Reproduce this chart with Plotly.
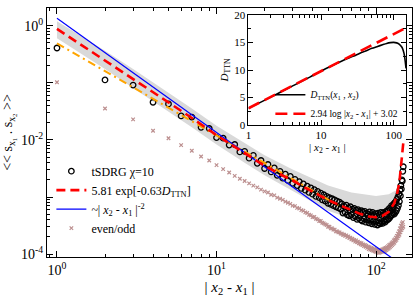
import math
import plotly.graph_objects as go

# ---------------- data ----------------
dist = list(range(1, 149))  # |x2 - x1|

# tSDRG chi=10 correlations, log10 values at dist = 1..148
tsdrg_log10 = [
    -0.39, -0.95, -1.04, -1.34, -1.37, -1.58, -1.60, -1.78, -1.80, -1.96,
    -1.97, -2.09, -2.08, -2.21, -2.20, -2.32, -2.27, -2.41, -2.36, -2.50,
    -2.43, -2.56, -2.49, -2.62, -2.55, -2.67, -2.60, -2.71, -2.64, -2.76,
    -2.69, -2.80, -2.73, -2.85, -2.77, -2.88, -2.81, -2.92, -2.84, -2.95,
    -2.87, -2.99, -2.90, -3.01, -2.93, -3.05, -2.96, -3.07, -2.99, -3.11,
    -3.01, -3.13, -3.03, -3.15, -3.05, -3.17, -3.07, -3.19, -3.09, -3.21,
    -3.12, -3.28, -3.16, -3.27, -3.14, -3.31, -3.19, -3.33, -3.17, -3.31,
    -3.21, -3.36, -3.20, -3.34, -3.23, -3.39, -3.22, -3.37, -3.26, -3.40,
    -3.24, -3.42, -3.27, -3.38, -3.25, -3.44, -3.28, -3.40, -3.30, -3.45,
    -3.26, -3.41, -3.31, -3.47, -3.27, -3.43, -3.32, -3.48, -3.29, -3.44,
    -3.33, -3.49, -3.28, -3.45, -3.31, -3.47, -3.27, -3.43, -3.32, -3.46,
    -3.27, -3.42, -3.30, -3.44, -3.26, -3.41, -3.24, -3.40, -3.25, -3.38,
    -3.20, -3.36, -3.22, -3.33, -3.15, -3.31, -3.17, -3.28, -3.12, -3.30,
    -3.10, -3.27, -3.08, -3.24, -3.04, -3.20, -3.00, -3.15, -2.95, -3.08,
    -2.88, -2.98, -2.80, -2.86, -2.70, -2.72, -2.55, -2.47,
]

# even/odd values, log10 at dist = 1..148
evenodd_log10 = [
    -0.99, -1.45, -1.64, -1.84, -1.97, -2.09, -2.19, -2.29, -2.36, -2.44,
    -2.51, -2.57, -2.63, -2.68, -2.72, -2.76, -2.80, -2.83, -2.87, -2.90,
    -2.92, -2.96, -2.97, -3.01, -3.03, -3.05, -3.08, -3.10, -3.12, -3.15,
    -3.16, -3.19, -3.20, -3.23, -3.24, -3.27, -3.28, -3.31, -3.32, -3.35,
    -3.35, -3.38, -3.39, -3.42, -3.42, -3.45, -3.46, -3.48, -3.49, -3.52,
    -3.52, -3.55, -3.55, -3.57, -3.57, -3.60, -3.60, -3.62, -3.62, -3.64,
    -3.64, -3.66, -3.66, -3.68, -3.67, -3.70, -3.69, -3.72, -3.71, -3.74,
    -3.73, -3.76, -3.75, -3.78, -3.76, -3.79, -3.78, -3.81, -3.80, -3.83,
    -3.81, -3.84, -3.83, -3.86, -3.84, -3.87, -3.85, -3.89, -3.87, -3.91,
    -3.88, -3.92, -3.89, -3.93, -3.90, -3.94, -3.91, -3.95, -3.92, -3.96,
    -3.92, -3.97, -3.93, -3.98, -3.93, -3.97, -3.93, -3.96, -3.92, -3.96,
    -3.91, -3.95, -3.90, -3.94, -3.89, -3.93, -3.88, -3.91, -3.86, -3.90,
    -3.84, -3.88, -3.83, -3.86, -3.81, -3.84, -3.79, -3.82, -3.76, -3.80,
    -3.74, -3.77, -3.71, -3.75, -3.68, -3.72, -3.64, -3.69, -3.60, -3.66,
    -3.55, -3.62, -3.50, -3.58, -3.46, -3.55, -3.44, -3.52,
]

# D_TTN(x1, x2) curve (inset)
dttn_x = [1, 2, 3, 4, 5, 7, 10, 15, 20, 25, 30, 35, 40, 50, 60, 70, 80, 90,
          100, 110, 120, 130, 135, 140, 143, 145, 147, 148]
dttn_val = [3.0, 5.0, 6.2, 7.05, 7.7, 8.7, 9.8, 10.95, 11.75, 12.3, 12.7, 13.1,
            13.4, 13.95, 14.3, 14.6, 14.85, 15.0, 15.05, 14.95, 14.7, 14.15,
            13.6, 12.8, 12.0, 11.3, 10.6, 10.3]

# grey uncertainty band (log10 of upper / lower edge)
band_x = [1, 2, 3, 5, 7, 10, 15, 20, 30, 50, 70, 100, 120, 130, 138, 140]
band_hi_log10 = [0.08, -0.44, -0.76, -1.17, -1.45, -1.75, -2.06, -2.27, -2.52,
                 -2.80, -2.92, -2.98, -2.95, -2.90, -2.88, -2.95]
band_lo_log10 = [-0.22, -0.76, -1.09, -1.50, -1.78, -2.08, -2.40, -2.62, -2.90,
                 -3.24, -3.38, -3.44, -3.40, -3.30, -3.18, -3.10]

# fit parameters shown in the legends
exp_amp, exp_rate = 5.81, 0.63          # 5.81 exp[-0.63 D_TTN]
log_slope, log_offset = 2.94, 3.02      # 2.94 log|x2-x1| + 3.02
pow_x = [1, 148]
pow_amp, pow_exp = 1.35, -2.0           # ~|x2-x1|^-2
orange_x = [1, 58]
orange_amp, orange_exp = 0.49, -1.61    # dash-dot guide

# ---------------- derived ----------------
tsdrg = [10 ** v for v in tsdrg_log10]
evenodd = [10 ** v for v in evenodd_log10]
band_hi = [10 ** v for v in band_hi_log10]
band_lo = [10 ** v for v in band_lo_log10]
red_main = [exp_amp * math.exp(-exp_rate * d) for d in dttn_val]
pow_y = [pow_amp * x ** pow_exp for x in pow_x]
orange_y = [orange_amp * x ** orange_exp for x in orange_x]
log_fit_x = [1, 148]
log_fit_y = [log_slope * math.log(x) + log_offset for x in log_fit_x]

FONT = "Liberation Serif, Times New Roman, serif"
ROSY = "#bc8f8f"

fig = go.Figure()

# band
fig.add_trace(go.Scatter(
    x=band_x + band_x[::-1], y=band_hi + band_lo[::-1],
    fill="toself", fillcolor="#d9d9d9", line=dict(width=0),
    mode="lines", showlegend=False, hoverinfo="skip"))

fig.add_trace(go.Scatter(
    x=dist, y=evenodd, mode="markers", name="even/odd",
    marker=dict(symbol="x-thin", size=3.5, line=dict(width=1.2, color=ROSY), color=ROSY),
    legendrank=4))

fig.add_trace(go.Scatter(
    x=dist, y=tsdrg, mode="markers", name="tSDRG χ=10",
    marker=dict(symbol="circle-open", size=5.5, color="black", line=dict(width=1.3)),
    legendrank=1))

fig.add_trace(go.Scatter(
    x=orange_x, y=orange_y, mode="lines", showlegend=False,
    line=dict(color="orange", width=2, dash="8px,4px,2px,4px")))

fig.add_trace(go.Scatter(
    x=pow_x, y=pow_y, mode="lines",
    name="~| <i>x</i><sub>2</sub> - <i>x</i><sub>1</sub> |<sup>-2</sup>",
    line=dict(color="blue", width=1.2), legendrank=3))

fig.add_trace(go.Scatter(
    x=dttn_x, y=red_main, mode="lines",
    name="5.81 exp[-0.63<i>D</i><sub>TTN</sub>]",
    line=dict(color="red", width=2.6, dash="9px,5px"), legendrank=2))

# inset
fig.add_trace(go.Scatter(
    x=dttn_x, y=dttn_val, mode="lines", xaxis="x2", yaxis="y2", legend="legend2",
    name="<i>D</i><sub>TTN</sub>(<i>x</i><sub>1</sub> , <i>x</i><sub>2</sub>)",
    line=dict(color="black", width=1.6, shape="spline", smoothing=0.6)))
fig.add_trace(go.Scatter(
    x=log_fit_x, y=log_fit_y, mode="lines", xaxis="x2", yaxis="y2", legend="legend2",
    name="2.94 log |<i>x</i><sub>2</sub> - <i>x</i><sub>1</sub>| + 3.02",
    line=dict(color="red", width=2.6, dash="12px,6px")))

ax_common = dict(showline=True, linecolor="black", linewidth=1, mirror="allticks",
                 ticks="inside", tickcolor="black", showgrid=False, zeroline=False)

x_minor = [0.9] + [k for k in range(2, 10)] + [10 * k for k in range(2, 10)]
y_major = [1, 0.1, 0.01, 0.001, 0.0001]
y_minor = [k * 10.0 ** e for e in range(-5, 1) for k in range(2, 10)]

fig.update_layout(
    width=415, height=297,
    margin=dict(l=47, r=2, t=2, b=40),
    paper_bgcolor="white", plot_bgcolor="white",
    font=dict(family=FONT, color="black", size=14),
    xaxis=dict(type="log", range=[-0.0625, 2.225], domain=[0, 1], anchor="y",
               tickmode="array", tickvals=[1, 10, 100],
               ticktext=["10<sup>0</sup>", "10<sup>1</sup>", "10<sup>2</sup>"],
               ticklen=6, tickfont=dict(size=14),
               minor=dict(tickmode="array", tickvals=x_minor, ticks="inside", ticklen=3,
                          tickcolor="black"),
               title=dict(text="| <i>x</i><sub>2</sub> - <i>x</i><sub>1</sub> |",
                          font=dict(size=15), standoff=4),
               **ax_common),
    yaxis=dict(type="log", range=[-4.05, 0.31], domain=[0, 1], anchor="x",
               tickmode="array", tickvals=y_major,
               ticktext=["10<sup>0</sup>", "", "10<sup>-2</sup>", "", "10<sup>-4</sup>"],
               ticklen=6, tickfont=dict(size=14),
               minor=dict(tickmode="array", tickvals=y_minor, ticks="inside", ticklen=3,
                          tickcolor="black"),
               title=dict(text="&lt;&lt; s<sub>x<sub>1</sub></sub> . s<sub>x<sub>2</sub></sub> &gt;&gt;",
                          font=dict(size=14), standoff=5),
               **ax_common),
    xaxis2=dict(type="log", range=[0, 2.172], domain=[0.552, 0.984], anchor="y2",
                tickmode="array", tickvals=[1, 10, 100], ticktext=["1", "10", "100"],
                ticklen=5, tickfont=dict(size=11),
                minor=dict(tickmode="array", tickvals=[k for k in range(2, 10)] + [10 * k for k in range(2, 10)],
                           ticks="inside", ticklen=3, tickcolor="black"),
                title=dict(text="| <i>x</i><sub>2</sub> - <i>x</i><sub>1</sub> |",
                           font=dict(size=11), standoff=1),
                **ax_common),
    yaxis2=dict(range=[0, 20], domain=[0.531, 0.971], anchor="x2",
                tickmode="array", tickvals=[0, 5, 10, 15, 20],
                ticklen=5, tickfont=dict(size=11),
                minor=dict(tickmode="array", tickvals=[2.5, 7.5, 12.5, 17.5],
                           ticks="inside", ticklen=3, tickcolor="black"),
                title=dict(text="<i>D</i><sub>TTN</sub>", font=dict(size=11), standoff=3),
                **ax_common),
    legend=dict(x=0.012, y=0.403, xanchor="left", yanchor="top",
                bgcolor="rgba(0,0,0,0)", font=dict(size=12, family=FONT),
                tracegroupgap=0, itemwidth=30),
    legend2=dict(x=0.612, y=0.71, xanchor="left", yanchor="top",
                 bgcolor="rgba(0,0,0,0)", font=dict(size=9.5, family=FONT),
                 tracegroupgap=0, itemwidth=30),
)

fig.write_html("out.html", config={"displayModeBar": False},
               post_script="document.body.style.margin='0';document.body.style.overflow='hidden';")
